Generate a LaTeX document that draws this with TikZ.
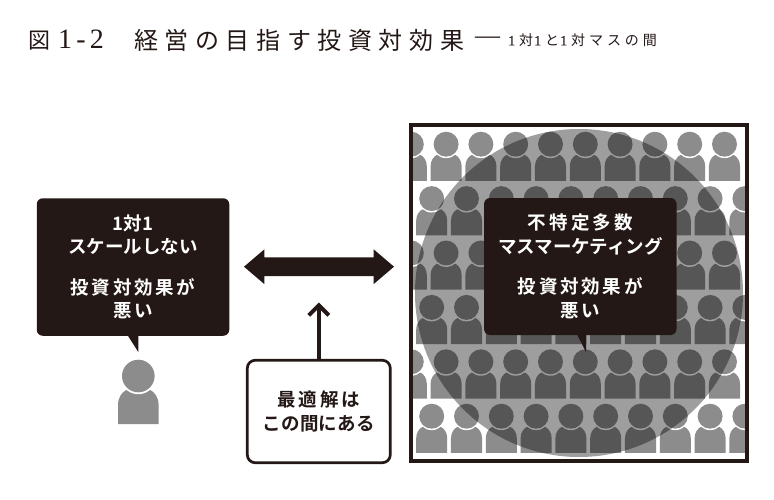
\documentclass[tikz,border=0pt]{standalone}
\usepackage{fontspec}
\usetikzlibrary{arrows.meta,shapes.arrows}
\newfontfamily\jp[BoldFont={Noto Sans CJK JP Bold}]{Noto Sans CJK JP}
\newfontfamily\lat[FakeBold=0.4]{Liberation Serif}
\newfontfamily\latthin{Liberation Serif}
\newcommand{\spc}[1]{\addfontfeature{LetterSpace=#1}}
\definecolor{ink}{HTML}{231815}
\definecolor{figgray}{HTML}{8C8C8C}
\tikzset{
  person/.pic={
    \fill[figgray] (-20.3,48) -- (-20.3,29) .. controls (-20.3,21) and (-16,16) .. (-12,14) -- (12,14)
      .. controls (16,16) and (20.3,21) .. (20.3,29) -- (20.3,48) -- cycle;
    \fill[white] (0,0) circle (18.2);
    \fill[figgray] (0,0) circle (16.3);
  },
  bubble/.style={fill=ink,rounded corners=6pt,text=white,font=\jp\bfseries\fontsize{18.5}{23.5}\selectfont,
    align=center,inner sep=0pt,outer sep=0pt},
  tail/.style={fill=ink},
  titletext/.style={anchor=west,inner sep=0pt,text=ink},
  frame/.style={draw=ink,line width=4pt,fill=white,outer sep=0pt},
}
\begin{document}
\begin{tikzpicture}[x=1pt,y=-1pt]
\useasboundingbox (0,0) rectangle (774,499);
\fill[white] (0,0) rectangle (774,499);
% title
\node[titletext] (t1) at (28,40.5) {\jp\fontsize{22}{22}\selectfont 図\hspace{8pt}{\latthin\fontsize{28}{28}\selectfont\spc{15}1-2}};
\node[titletext] (t2) at (134,40.5) {\jp\fontsize{24}{24}\selectfont\spc{27.5}経営の目指す投資対効果};
\node[titletext] (t3) at (475,40) {\latthin\fontsize{25}{25}\selectfont —};
\node[titletext] (t4) at (508,40) {\jp\fontsize{14}{14}\selectfont\spc{28}{\lat 1}\hspace{4pt}対\hspace{1pt}{\lat 1}\hspace{4pt}と\hspace{1pt}{\lat 1}\hspace{4pt}対マスの間};
% crowd
\node[frame,minimum width=336pt,minimum height=336pt,inner sep=0pt] (crowd) at (579,293) {};
\begin{scope}
  \clip (413,127) rectangle (745,459.5);
  \foreach \r/\off in {0/0,1/1,2/0,3/1,4/0,5/1}{
    \foreach \c in {0,...,9}{
      \pgfmathsetmacro{\px}{411.3+20.4*\off+34.8*\c}
      \pgfmathsetmacro{\py}{144.2+54.4*\r}
      \pic[scale=.765] at (\px,\py) {person};
    }
  }
\end{scope}
\fill[black,opacity=.38] (579,293) circle (164);
\draw[draw=ink,line width=4pt] (crowd.north west) rectangle (crowd.south east);
% right bubble
\node[bubble,minimum width=192.5pt,minimum height=137pt] (mass) at (580.3,266.5)
  {{\spc{17}不特定多数}\\マスマーケティング\\[17pt]{\spc{15}投資対効果が}\\{\spc{15}悪い}};
\coordinate (massTip) at (586,352);
\fill[tail] ([xshift=-3.5pt,yshift=1pt]mass.south) -- (massTip) -- ([xshift=5.7pt,yshift=1pt]mass.south) -- cycle;
% left bubble
\node[bubble,minimum width=192.5pt,minimum height=137.5pt] (one) at (133,267)
  {1対1\\スケールしない\\[17pt]{\spc{15}投資対効果が}\\{\spc{15}悪い}};
\coordinate (oneTip) at (138.3,352);
\fill[tail] ([xshift=-5.7pt,yshift=1pt]one.south) -- (oneTip) -- ([xshift=5.3pt,yshift=1pt]one.south) -- cycle;
\pic[scale=1] at (138.3,376) {person};
% double arrow
\node[double arrow,fill=ink,inner sep=0pt,outer sep=0pt,minimum height=150pt,minimum width=34.4pt,
  double arrow head extend=8pt,double arrow tip angle=81] (span) at (319,266.7) {\rule{0pt}{18.4pt}};
% optimum box
\node[draw=ink,line width=2.7pt,rounded corners=8pt,fill=white,minimum width=143pt,minimum height=102.5pt,
  text=ink,align=center,inner sep=0pt,outer sep=0pt,font=\jp\bfseries\fontsize{18.5}{24}\selectfont] (best) at (318.8,411.5)
  {{\spc{16}最適解は}\\{\spc{2}この間にある}};
\coordinate (bestTip) at (318.8,302.5);
\draw[ink,line width=4pt,-{Straight Barb[length=10pt,width=20pt]}] (best.north) -- (bestTip);
\end{tikzpicture}
\end{document}
